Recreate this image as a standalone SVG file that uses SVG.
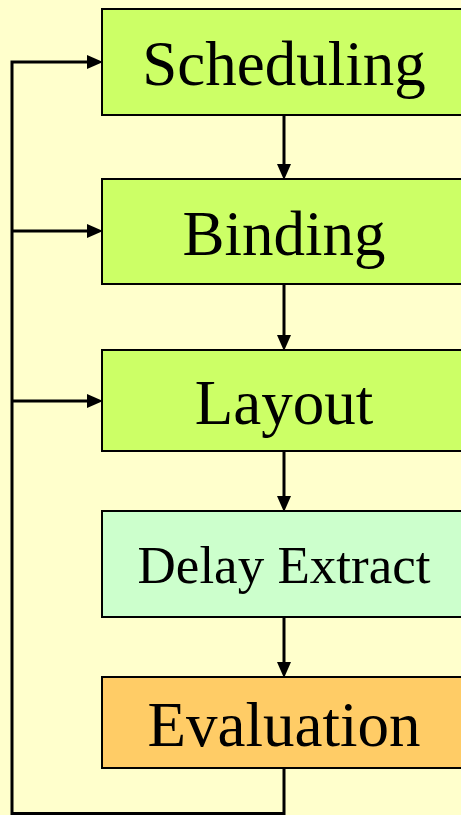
<svg xmlns="http://www.w3.org/2000/svg" width="461" height="815" viewBox="0 0 461 815">
<style>
.box{stroke:#000;stroke-width:2}
.t{font-family:"Liberation Serif","Times New Roman",serif;text-anchor:middle;fill:#000}
.c{stroke:#000;stroke-width:3;fill:none}
.h{fill:#000;stroke:none}
</style>
<rect x="0" y="0" width="461" height="815" fill="#FFFFCC"/>
<g id="connectors">
<path class="c" d="M284,115 V166"/>
<polygon class="h" points="277,164 291,164 284,180"/>
<path class="c" d="M284,284 V337"/>
<polygon class="h" points="277,335 291,335 284,351"/>
<path class="c" d="M284,451 V498"/>
<polygon class="h" points="277,496 291,496 284,512"/>
<path class="c" d="M284,617 V664"/>
<polygon class="h" points="277,662 291,662 284,678"/>
<path class="c" d="M284,768 V813.5 H12 V62 H89"/>
<polygon class="h" points="87,55 87,69 103,62"/>
<path class="c" d="M12,231 H89"/>
<polygon class="h" points="87,224 87,238 103,231"/>
<path class="c" d="M12,401 H89"/>
<polygon class="h" points="87,394 87,408 103,401"/>
</g>
<g id="scheduling">
<rect class="box" x="102" y="9" width="366" height="106" fill="#CCFF66"/>
<text class="t" x="284" y="85" font-size="63">Scheduling</text>
</g>
<g id="binding">
<rect class="box" x="102" y="179" width="366" height="105" fill="#CCFF66"/>
<text class="t" x="284" y="255" font-size="63">Binding</text>
</g>
<g id="layout">
<rect class="box" x="102" y="350" width="366" height="101" fill="#CCFF66"/>
<text class="t" x="284" y="424" font-size="63">Layout</text>
</g>
<g id="delay-extract">
<rect class="box" x="102" y="511" width="366" height="106" fill="#CCFFCC"/>
<text class="t" x="284" y="583" font-size="53">Delay Extract</text>
</g>
<g id="evaluation">
<rect class="box" x="102" y="677" width="366" height="91" fill="#FFCC66"/>
<text class="t" x="284" y="746" font-size="63">Evaluation</text>
</g>
</svg>
